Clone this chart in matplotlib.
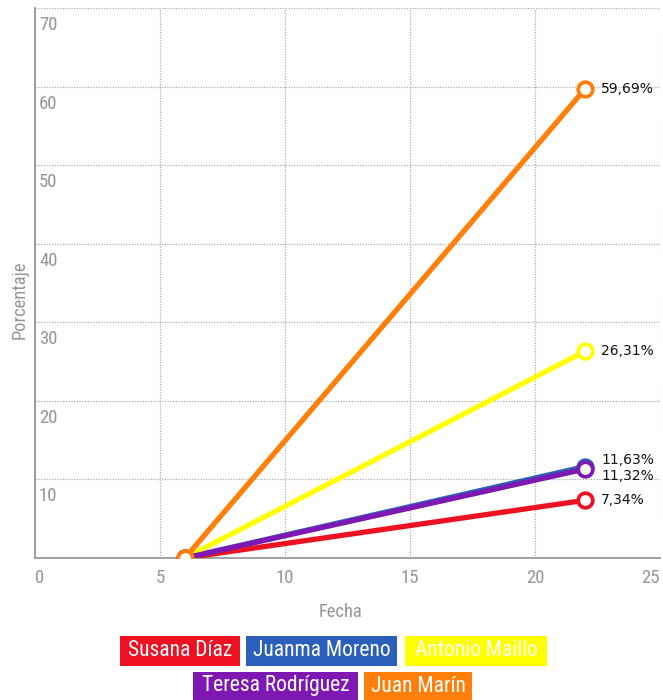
import matplotlib
matplotlib.use("Agg")
import matplotlib.pyplot as plt
from matplotlib.patches import Rectangle
import matplotlib.transforms as mtransforms
from matplotlib import font_manager

# ---- data ----
names = ["Susana Díaz", "Juanma Moreno", "Antonio Maillo", "Teresa Rodríguez", "Juan Marín"]
colors = ["#ee1122", "#2a5fbb", "#ffff00", "#7d18b3", "#ff7f0a"]
x_start = [6, 6, 6, 6, 6]
y_start = [0, 0, 0, 0, 0]
x_end = [22, 22, 22, 22, 22]
y_end = [7.34, 11.63, 26.31, 11.32, 59.69]
end_labels = ["7,34%", "11,63%", "26,31%", "11,32%", "59,69%"]
label_dy = [0, 7, 0, -7, 0]  # pixel offsets for overlapping labels
x_ticks = [0, 5, 10, 15, 20, 25]
y_ticks = [10, 20, 30, 40, 50, 60, 70]
x_label = "Fecha"
y_label = "Porcentaje"

# find a condensed font
fl = font_manager.fontManager.ttflist
avail = {f.name for f in fl}
cond_family = None
cond_stretch = 'normal'
for cand in ["Roboto Condensed", "Open Sans Condensed", "Liberation Sans Narrow",
             "Noto Sans Condensed", "DejaVu Sans Condensed"]:
    if cand in avail:
        cond_family = cand
        break
if cond_family is None:
    for f in fl:
        if f.stretch in ('condensed', 'semi-condensed', 'extra-condensed') or (isinstance(f.stretch, int) and f.stretch < 500):
            cond_family = f.name
            cond_stretch = f.stretch
            break
if cond_family is None:
    cond_family = "DejaVu Sans"
COND = dict(family=[cond_family, "DejaVu Sans"], fontstretch=cond_stretch)

W, H = 663, 700
fig = plt.figure(figsize=(W / 100, H / 100), dpi=100)
ax = fig.add_axes([35 / W, (H - 558) / H, 625 / W, 550 / H])
ax.set_xlim(0, 25)
ax.set_ylim(0, 70)

for i in range(len(names)):
    ax.plot([x_start[i], x_end[i]], [y_start[i], y_end[i]], color=colors[i],
            lw=3.8, solid_capstyle='round', zorder=3 + i,
            marker='o', markersize=10.5, markerfacecolor='white',
            markeredgecolor=colors[i], markeredgewidth=2.7)

for i in range(len(names)):
    off = mtransforms.offset_copy(ax.transData, fig=fig, x=16, y=label_dy[i], units='dots')
    ax.text(x_end[i], y_end[i], end_labels[i], transform=off, ha='left', va='center',
            fontsize=10, family=["DejaVu Sans"], color='#111111', zorder=20)

ax.grid(True, color='#aaaaaa', linestyle=(0, (1, 1.2)), linewidth=0.9)
ax.set_xticks(x_ticks)
ax.set_yticks(y_ticks)
ax.set_yticklabels([])
ax.tick_params(axis='both', length=0)
ax.set_xticklabels([str(v) for v in x_ticks], color='#959595', fontsize=13.5, **COND)
ax.tick_params(axis='x', pad=8)
xl = ax.get_xticklabels()
xl[0].set_ha('left')
xl[-1].set_ha('right')

for v in y_ticks:
    off = mtransforms.offset_copy(ax.get_yaxis_transform(), fig=fig, x=4, y=-8, units='dots')
    ax.text(0, v, str(v), transform=off, ha='left', va='top', color='#959595',
            fontsize=13.5, **COND)

for s in ['top', 'right']:
    ax.spines[s].set_visible(False)
for s in ['left', 'bottom']:
    ax.spines[s].set_color('#999999')
    ax.spines[s].set_linewidth(1.3)

fig.text(20 / W, 1 - 300 / H, y_label, rotation=90, ha='center', va='center',
         color='#959595', fontsize=13.3, **COND)
fig.text(341 / W, 1 - 612 / H, x_label, ha='center', va='center',
         color='#959595', fontsize=13.3, **COND)

# legend boxes
boxes = [(120, 240, 636, 666), (246, 397, 636, 666), (405, 547, 636, 666),
         (193, 358, 672, 700), (364, 472, 672, 700)]
for i, (x0, x1, y0, y1) in enumerate(boxes):
    fig.patches.append(Rectangle((x0 / W, 1 - y1 / H), (x1 - x0) / W, (y1 - y0) / H,
                                 transform=fig.transFigure, facecolor=colors[i],
                                 edgecolor='none'))
    fig.text((x0 + x1) / 2 / W, 1 - (y0 + y1) / 2 / H, names[i], ha='center', va='center',
             color='white', fontsize=15.5, **COND)

fig.savefig("out.png", dpi=100)
